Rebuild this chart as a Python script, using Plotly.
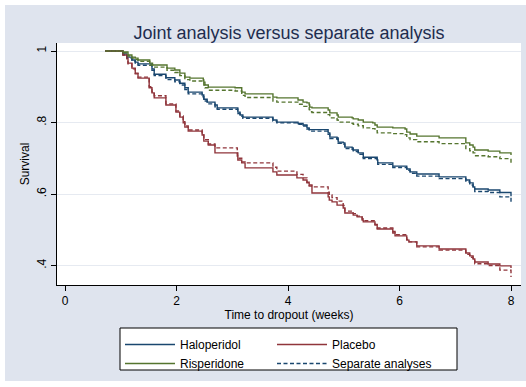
import plotly.graph_objects as go

# ---------------- data ----------------
halo_t = [0.72, 1.04, 1.11, 1.20, 1.26, 1.31, 1.56, 1.60, 1.81, 1.97, 2.06, 2.15, 2.21, 2.46, 2.49, 2.55, 2.69,
          2.73, 3.10, 3.14, 3.19, 3.73, 3.80, 4.18, 4.27, 4.34, 4.38, 4.72, 4.75, 4.88, 4.90, 4.99, 5.02, 5.15,
          5.17, 5.26, 5.35, 5.60, 5.61, 5.88, 6.13, 6.19, 6.31, 6.71, 7.19, 7.26, 7.32, 7.35, 7.59, 7.80, 8.00]
halo_joint = [1.000, 0.992, 0.983, 0.975, 0.969, 0.964, 0.950, 0.935, 0.925, 0.919, 0.910, 0.897, 0.885, 0.877,
              0.865, 0.857, 0.849, 0.841, 0.829, 0.821, 0.815, 0.807, 0.801, 0.797, 0.793, 0.785, 0.780, 0.771,
              0.759, 0.757, 0.745, 0.743, 0.731, 0.729, 0.723, 0.715, 0.703, 0.695, 0.687, 0.678, 0.670, 0.662,
              0.656, 0.648, 0.639, 0.631, 0.620, 0.614, 0.611, 0.604, 0.594]
halo_sep = [1.000, 0.990, 0.980, 0.972, 0.966, 0.960, 0.946, 0.931, 0.920, 0.914, 0.905, 0.892, 0.880, 0.872,
            0.860, 0.852, 0.844, 0.837, 0.825, 0.817, 0.812, 0.804, 0.799, 0.795, 0.790, 0.782, 0.776, 0.767,
            0.755, 0.753, 0.742, 0.739, 0.727, 0.725, 0.719, 0.711, 0.699, 0.691, 0.683, 0.674, 0.666, 0.658,
            0.650, 0.643, 0.634, 0.625, 0.614, 0.607, 0.604, 0.592, 0.575]

plac_t = [0.72, 1.04, 1.11, 1.13, 1.20, 1.26, 1.31, 1.51, 1.56, 1.60, 1.81, 1.99, 2.06, 2.12, 2.15, 2.21, 2.46,
          2.49, 2.57, 2.69, 3.09, 3.10, 3.17, 3.23, 3.73, 3.80, 4.16, 4.27, 4.34, 4.38, 4.43, 4.72, 4.74, 4.79,
          4.88, 4.99, 5.02, 5.17, 5.24, 5.33, 5.35, 5.56, 5.60, 5.88, 5.92, 6.13, 6.17, 6.31, 6.71, 7.19, 7.26,
          7.32, 7.35, 7.59, 7.80, 8.00]
plac_joint = [1.000, 0.989, 0.980, 0.966, 0.952, 0.938, 0.924, 0.897, 0.883, 0.869, 0.849, 0.829, 0.815, 0.799,
              0.787, 0.776, 0.765, 0.748, 0.737, 0.715, 0.706, 0.695, 0.687, 0.673, 0.662, 0.653, 0.645, 0.639,
              0.631, 0.622, 0.603, 0.592, 0.583, 0.578, 0.569, 0.561, 0.547, 0.541, 0.536, 0.527, 0.522, 0.513,
              0.502, 0.491, 0.483, 0.471, 0.466, 0.455, 0.446, 0.435, 0.427, 0.418, 0.410, 0.404, 0.399, 0.393]
plac_sep = [1.000, 0.989, 0.978, 0.964, 0.950, 0.936, 0.927, 0.900, 0.886, 0.875, 0.852, 0.832, 0.818, 0.802,
            0.790, 0.779, 0.768, 0.752, 0.740, 0.729, 0.715, 0.700, 0.690, 0.687, 0.675, 0.664, 0.655, 0.645,
            0.633, 0.625, 0.620, 0.605, 0.597, 0.590, 0.580, 0.568, 0.552, 0.545, 0.538, 0.530, 0.525, 0.515,
            0.505, 0.495, 0.486, 0.473, 0.466, 0.452, 0.443, 0.431, 0.423, 0.414, 0.405, 0.400, 0.387, 0.368]

risp_t = [0.72, 1.04, 1.13, 1.20, 1.26, 1.31, 1.52, 1.57, 1.83, 1.97, 2.06, 2.15, 2.24, 2.48, 2.49, 2.51, 2.57,
          3.05, 3.17, 3.23, 3.73, 3.80, 4.18, 4.27, 4.34, 4.38, 4.39, 4.43, 4.72, 4.75, 4.88, 4.90, 5.15, 5.17,
          5.26, 5.35, 5.52, 5.56, 5.60, 5.88, 6.10, 6.13, 6.19, 6.31, 6.71, 7.19, 7.26, 7.32, 7.35, 7.59, 7.80, 8.00]
risp_joint = [1.000, 0.997, 0.989, 0.983, 0.980, 0.975, 0.966, 0.961, 0.952, 0.947, 0.938, 0.927, 0.924, 0.919,
              0.913, 0.905, 0.899, 0.897, 0.885, 0.880, 0.871, 0.869, 0.863, 0.857, 0.855, 0.849, 0.843, 0.841,
              0.835, 0.827, 0.821, 0.815, 0.813, 0.810, 0.807, 0.801, 0.799, 0.793, 0.787, 0.785, 0.782, 0.773,
              0.768, 0.762, 0.757, 0.743, 0.737, 0.731, 0.723, 0.720, 0.715, 0.709]
risp_sep = [1.000, 0.995, 0.986, 0.980, 0.976, 0.971, 0.961, 0.955, 0.946, 0.940, 0.931, 0.920, 0.916, 0.911,
            0.905, 0.897, 0.890, 0.888, 0.876, 0.870, 0.860, 0.857, 0.851, 0.845, 0.842, 0.836, 0.830, 0.828,
            0.822, 0.813, 0.807, 0.801, 0.798, 0.795, 0.791, 0.785, 0.783, 0.777, 0.771, 0.769, 0.766, 0.757,
            0.752, 0.746, 0.741, 0.727, 0.721, 0.715, 0.707, 0.704, 0.699, 0.687]

x_ticks = [0, 2, 4, 6, 8]
y_ticks = [0.4, 0.6, 0.8, 1.0]
y_ticktext = [".4", ".6", ".8", "1"]

NAVY, MAROON, GREEN = "#1a476f", "#90353b", "#55752f"
FONT = "Liberation Sans, Arial, Helvetica, sans-serif"

fig = go.Figure()
W = 1.4
DASH = "4px,2.5px"
fig.add_trace(go.Scatter(x=halo_t, y=halo_joint, mode="lines", line=dict(color=NAVY, width=W, shape="hv"),
                         name="Haloperidol", legend="legend"))
fig.add_trace(go.Scatter(x=plac_t, y=plac_joint, mode="lines", line=dict(color=MAROON, width=W, shape="hv"),
                         name="Placebo", legend="legend2"))
fig.add_trace(go.Scatter(x=risp_t, y=risp_joint, mode="lines", line=dict(color=GREEN, width=W, shape="hv"),
                         name="Risperidone", legend="legend"))
fig.add_trace(go.Scatter(x=halo_t, y=halo_sep, mode="lines",
                         line=dict(color=NAVY, width=W, shape="hv", dash=DASH),
                         name="Separate analyses", legend="legend2"))
fig.add_trace(go.Scatter(x=plac_t, y=plac_sep, mode="lines",
                         line=dict(color=MAROON, width=W, shape="hv", dash=DASH), showlegend=False))
fig.add_trace(go.Scatter(x=risp_t, y=risp_sep, mode="lines",
                         line=dict(color=GREEN, width=W, shape="hv", dash=DASH), showlegend=False))

# plot area: x 57..521 px, y 43..285 px
L, R, T, B = 57, 521, 43, 285
PW, PH = R - L, B - T
def px(xp):
    return (xp - L) / PW
def py(yp):
    return (B - yp) / PH

shapes = [
    dict(type="rect", xref="paper", yref="paper", x0=px(5), x1=px(530), y0=py(381), y1=py(5),
         fillcolor="#dfe4ee", line=dict(width=0), layer="below"),
    dict(type="rect", xref="paper", yref="paper", x0=0, x1=1, y0=0, y1=1,
         fillcolor="white", line=dict(width=0), layer="below"),
    dict(type="rect", xref="paper", yref="paper", x0=px(120), x1=px(457), y0=py(370), y1=py(328),
         fillcolor="white", line=dict(color="black", width=1), layer="below"),
]

fig.update_layout(
    width=526, height=387,
    margin=dict(l=L, r=526 - R, t=T, b=387 - B, autoexpand=False),
    paper_bgcolor="white", plot_bgcolor="white",
    font=dict(family=FONT, size=12, color="black"),
    title=dict(text="Joint analysis versus separate analysis", x=0.5, xref="paper", xanchor="center",
               y=1 - 33 / 387, yref="container", yanchor="middle",
               font=dict(family=FONT, size=18, color="#1e2d4f")),
    shapes=shapes,
    xaxis=dict(range=[(L - 65) / 55.75, (R - 65) / 55.75], tickvals=x_ticks, showgrid=False, zeroline=False,
               showline=True, linecolor="black", linewidth=1, ticks="outside", ticklen=5, tickcolor="black",
               tickfont=dict(size=12), title=dict(text="Time to dropout (weeks)", font=dict(size=12), standoff=3)),
    yaxis=dict(range=[1 - (B - 51) / 357.5, 1 - (T - 51) / 357.5], tickvals=y_ticks, ticktext=y_ticktext,
               tickangle=-90, showgrid=True, gridcolor="#e6eaf1", gridwidth=1, zeroline=False,
               showline=True, linecolor="black", linewidth=1, ticks="outside", ticklen=5, tickcolor="black",
               tickfont=dict(size=12), title=dict(text="Survival", font=dict(size=12), standoff=3)),
    legend=dict(x=px(120), y=py(330), xanchor="left", yanchor="top", bgcolor="rgba(0,0,0,0)",
                borderwidth=0, itemwidth=50, font=dict(size=12), tracegroupgap=0),
    legend2=dict(x=px(272), y=py(330), xanchor="left", yanchor="top", bgcolor="rgba(0,0,0,0)",
                 borderwidth=0, itemwidth=50, font=dict(size=12), tracegroupgap=0),
)

fig.write_html("out.html", config={"displayModeBar": False},
               post_script="document.body.style.margin='0';document.body.style.overflow='hidden';")
